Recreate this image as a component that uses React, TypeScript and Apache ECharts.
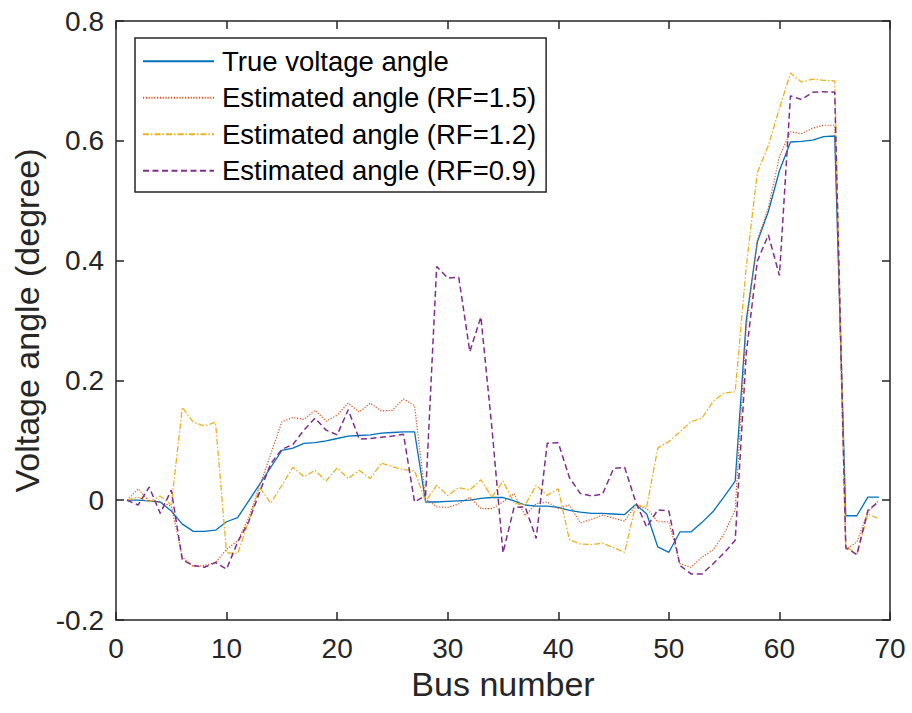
import React, { useEffect, useRef } from "react";
import * as echarts from "echarts";

const busNumbers = [
  1, 2, 3, 4, 5, 6, 7, 8, 9, 10, 11, 12, 13, 14, 15, 16, 17, 18, 19, 20, 21, 22, 23,
  24, 25, 26, 27, 28, 29, 30, 31, 32, 33, 34, 35, 36, 37, 38, 39, 40, 41, 42, 43, 44,
  45, 46, 47, 48, 49, 50, 51, 52, 53, 54, 55, 56, 57, 58, 59, 60, 61, 62, 63, 64, 65,
  66, 67, 68, 69,
];

const trueAngle = [
  0, 0, -0.001, -0.003, -0.018, -0.04, -0.052, -0.052, -0.05, -0.036,
  -0.029, -0.001, 0.027, 0.055, 0.083, 0.087, 0.095, 0.096, 0.099, 0.103,
  0.107, 0.108, 0.109, 0.112, 0.113, 0.114, 0.114, -0.003, -0.003, -0.002,
  -0.001, 0, 0.003, 0.0045, 0.0045, -0.001, -0.008, -0.01, -0.01, -0.012,
  -0.017, -0.02, -0.022, -0.022, -0.023, -0.024, -0.007, -0.023, -0.078, -0.087,
  -0.053, -0.053, -0.037, -0.019, 0.006, 0.032, 0.3, 0.431, 0.482, 0.55,
  0.598, 0.599, 0.601, 0.607, 0.608, -0.026, -0.026, 0.005, 0.005,
];

const estRF15 = [
  0, 0.019, -0.002, -0.003, -0.01, -0.095, -0.111, -0.109, -0.104, -0.082,
  -0.068, -0.03, 0.025, 0.077, 0.131, 0.138, 0.135, 0.15, 0.132, 0.142,
  0.162, 0.147, 0.162, 0.149, 0.15, 0.169, 0.158, 0.002, -0.011, -0.012,
  -0.006, 0.005, -0.014, -0.014, -0.003, 0.011, -0.026, -0.006, -0.003, -0.014,
  -0.008, -0.038, -0.032, -0.025, -0.03, -0.035, -0.008, -0.014, -0.036, -0.036,
  -0.106, -0.112, -0.095, -0.083, -0.056, -0.016, 0.29, 0.434, 0.488, 0.574,
  0.615, 0.612, 0.621, 0.626, 0.626, -0.082, -0.07, -0.02, 0,
];

const estRF12 = [
  0, 0.005, -0.003, 0.007, -0.008, 0.155, 0.13, 0.124, 0.13, -0.088,
  -0.089, -0.035, 0.021, -0.005, 0.025, 0.055, 0.039, 0.05, 0.032, 0.054,
  0.036, 0.05, 0.036, 0.062, 0.056, 0.051, 0.049, -0.002, 0.025, 0.008,
  0.021, 0.017, 0.034, 0.005, 0.032, -0.005, -0.008, 0.025, 0.008, 0.019,
  -0.066, -0.073, -0.074, -0.072, -0.079, -0.087, -0.008, -0.011, 0.087, 0.098,
  0.114, 0.131, 0.137, 0.165, 0.179, 0.181, 0.39, 0.547, 0.592, 0.654,
  0.713, 0.698, 0.703, 0.701, 0.7, -0.076, -0.091, -0.023, -0.031,
];

const estRF09 = [
  0, -0.008, 0.022, -0.022, 0.017, -0.1, -0.109, -0.112, -0.104, -0.115,
  -0.07, -0.036, 0.014, 0.061, 0.085, 0.093, 0.117, 0.137, 0.117, 0.109,
  0.151, 0.102, 0.103, 0.105, 0.107, 0.11, -0.003, 0.008, 0.39, 0.371,
  0.372, 0.248, 0.306, 0.12, -0.088, -0.012, -0.011, -0.064, 0.095, 0.096,
  0.038, 0.011, 0.007, 0.01, 0.053, 0.055, -0.003, -0.045, -0.016, -0.018,
  -0.109, -0.123, -0.123, -0.106, -0.088, -0.067, 0.245, 0.399, 0.443, 0.375,
  0.675, 0.669, 0.681, 0.682, 0.681, -0.079, -0.091, -0.017, -0.002,
];

const seriesNames = [
  "True voltage angle",
  "Estimated angle (RF=1.5)",
  "Estimated angle (RF=1.2)",
  "Estimated angle (RF=0.9)",
];

const xTickLabels = ["0", "10", "20", "30", "40", "50", "60", "70"];
const yTickLabels = ["-0.2", "0", "0.2", "0.4", "0.6", "0.8"];
const xAxisTitle = "Bus number";
const yAxisTitle = "Voltage angle (degree)";

const X_MIN = 0;
const X_MAX = 70;
const X_INT = 10;
const Y_MIN = -0.2;
const Y_MAX = 0.8;
const Y_INT = 0.2;

const FONT = "'Liberation Sans', Arial, Helvetica, sans-serif";
const AXIS_COLOR = "#262626";

const toPairs = (vals: number[]) => busNumbers.map((b, i) => [b, vals[i]]);

export default function App() {
  const ref = useRef<HTMLDivElement>(null);

  useEffect(() => {
    if (!ref.current) return;
    const chart = echarts.init(ref.current, null, { renderer: "svg" });

    const axisLine = { show: true, onZero: false, lineStyle: { color: AXIS_COLOR, width: 1.5 } };
    const axisTick = { show: true, inside: true, length: 8, lineStyle: { color: AXIS_COLOR, width: 1.5 } };

    const xLabel = (v: number) => xTickLabels[Math.round((v - X_MIN) / X_INT)] ?? "";
    const yLabel = (v: number) => yTickLabels[Math.round((v - Y_MIN) / Y_INT)] ?? "";

    const lineSeries = (name: string, data: number[], color: string, width: number, type: any) => ({
      name,
      type: "line",
      data: toPairs(data),
      symbol: "none",
      showSymbol: false,
      lineStyle: { color, width, type, cap: "butt" },
      itemStyle: { color },
      emphasis: { disabled: true },
    });

    chart.setOption({
      animation: false,
      backgroundColor: "#ffffff",
      grid: {
        left: 116,
        right: 22,
        top: 21,
        bottom: 93,
        containLabel: false,
        outerBoundsMode: "none",
      },
      legend: {
        orient: "vertical",
        left: 135,
        top: 38,
        padding: [8, 10, 6, 7],
        itemWidth: 71,
        itemHeight: 14,
        itemGap: 6,
        backgroundColor: "#ffffff",
        borderColor: AXIS_COLOR,
        borderWidth: 1.5,
        borderRadius: 0,
        selectedMode: false,
        data: seriesNames,
        itemStyle: { opacity: 0 },
        textStyle: {
          fontFamily: FONT,
          fontSize: 27.5,
          color: "#000000",
          lineHeight: 30.5,
          padding: [0, 0, 0, 3],
        },
      },
      xAxis: [
        {
          type: "value",
          min: X_MIN,
          max: X_MAX,
          interval: X_INT,
          position: "bottom",
          axisLine,
          axisTick,
          splitLine: { show: false },
          axisLabel: {
            formatter: xLabel,
            fontFamily: FONT,
            fontSize: 28,
            color: AXIS_COLOR,
            margin: 14,
          },
          name: xAxisTitle,
          nameLocation: "middle",
          nameGap: 30,
          nameTextStyle: { fontFamily: FONT, fontSize: 34, color: AXIS_COLOR },
        },
        {
          type: "value",
          min: X_MIN,
          max: X_MAX,
          interval: X_INT,
          position: "top",
          axisLine,
          axisTick,
          splitLine: { show: false },
          axisLabel: { show: false },
        },
      ],
      yAxis: [
        {
          type: "value",
          min: Y_MIN,
          max: Y_MAX,
          interval: Y_INT,
          position: "left",
          axisLine,
          axisTick,
          splitLine: { show: false },
          axisLabel: {
            formatter: yLabel,
            fontFamily: FONT,
            fontSize: 28,
            color: AXIS_COLOR,
            margin: 12,
          },
          name: yAxisTitle,
          nameLocation: "middle",
          nameGap: 72,
          nameTextStyle: { fontFamily: FONT, fontSize: 34, color: AXIS_COLOR },
        },
        {
          type: "value",
          min: Y_MIN,
          max: Y_MAX,
          interval: Y_INT,
          position: "right",
          axisLine,
          axisTick,
          splitLine: { show: false },
          axisLabel: { show: false },
        },
      ],
      series: [
        lineSeries(seriesNames[0], trueAngle, "#0072BD", 1.3, "solid"),
        lineSeries(seriesNames[1], estRF15, "#D95319", 1.2, [1.2, 1.6]),
        lineSeries(seriesNames[2], estRF12, "#EDB120", 1.3, [6, 2, 1.5, 2]),
        lineSeries(seriesNames[3], estRF09, "#7E2F8E", 1.5, [6, 3.5]),
      ],
    });

    return () => chart.dispose();
  }, []);

  return (
    <div
      ref={ref}
      style={{ position: "fixed", left: 0, top: 0, width: 912, height: 713, background: "#fff" }}
    />
  );
}
